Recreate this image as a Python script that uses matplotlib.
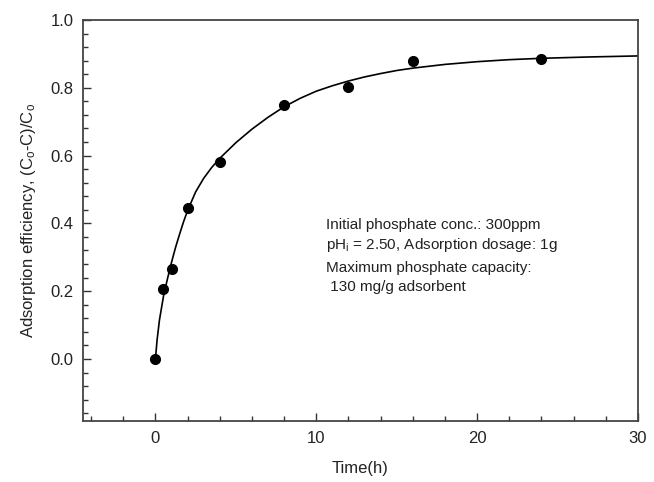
import numpy as np
import matplotlib
matplotlib.use("Agg")
import matplotlib.pyplot as plt
from matplotlib.ticker import MultipleLocator

plt.rcParams['font.family'] = ['Liberation Sans', 'DejaVu Sans']
plt.rcParams['mathtext.fontset'] = 'custom'
plt.rcParams['mathtext.rm'] = 'Liberation Sans'
plt.rcParams['mathtext.it'] = 'Liberation Sans'
plt.rcParams['mathtext.default'] = 'regular'

# measured points
time_h = [0, 0.5, 1, 2, 4, 8, 12, 16, 24]
efficiency = [0.0, 0.205, 0.265, 0.445, 0.582, 0.749, 0.803, 0.880, 0.886]

# fitted curve
fit_t = [0, 0.1, 0.25, 0.5, 0.75, 1.0, 1.25, 1.5, 1.75, 2.0, 2.5, 3.0, 3.5,
         4, 5, 6, 7, 8, 9, 10, 11, 12, 13, 14, 15, 16, 18, 20, 22, 24, 27, 30]
fit_y = [0.0, 0.055, 0.115, 0.185, 0.237, 0.285, 0.329, 0.368, 0.405, 0.438,
         0.493, 0.533, 0.565, 0.592, 0.638, 0.678, 0.713, 0.744, 0.769,
         0.790, 0.806, 0.820, 0.832, 0.842, 0.851, 0.858, 0.869, 0.877,
         0.883, 0.887, 0.891, 0.894]

notes = ["Initial phosphate conc.: 300ppm",
         "pH$_i$ = 2.50, Adsorption dosage: 1g",
         "Maximum phosphate capacity:",
         " 130 mg/g adsorbent"]
note_y = [0.395, 0.337, 0.267, 0.211]

fig = plt.figure(figsize=(6.54, 4.82), dpi=100)
ax = fig.add_axes([0.127, 0.1266, 0.8485, 0.8319])

ax.plot(fit_t, fit_y, color='black', linewidth=1.2)
ax.plot(time_h, efficiency, 'o', color='black', markersize=7)

for txt, yy in zip(notes, note_y):
    ax.text(10.6, yy, txt, fontsize=11, va='center', ha='left', color='#222222')

ax.set_xlim(-4.5, 30)
ax.set_ylim(-0.183, 1.0)
ax.xaxis.set_major_locator(MultipleLocator(10))
ax.xaxis.set_minor_locator(MultipleLocator(2))
ax.set_yticks([0.0, 0.2, 0.4, 0.6, 0.8, 1.0])
ax.yaxis.set_minor_locator(MultipleLocator(0.04))
ax.set_yticklabels(['0.0', '0.2', '0.4', '0.6', '0.8', '1.0'])

ax.tick_params(which='both', direction='in', top=False, right=False,
               labelsize=12, colors='#333333', labelcolor='#222222')
ax.tick_params(which='major', length=6, width=1.0, pad=7)
ax.tick_params(which='minor', length=3.5, width=1.0)
for s in ax.spines.values():
    s.set_linewidth(1.3)
    s.set_color('#444444')

ax.set_xlabel('Time(h)', fontsize=12, labelpad=11, color='#222222')
ax.set_ylabel('Adsorption efficiency, (C$_o$-C)/C$_o$', fontsize=12,
              labelpad=9, color='#222222')

fig.savefig('out.png', dpi=100)
